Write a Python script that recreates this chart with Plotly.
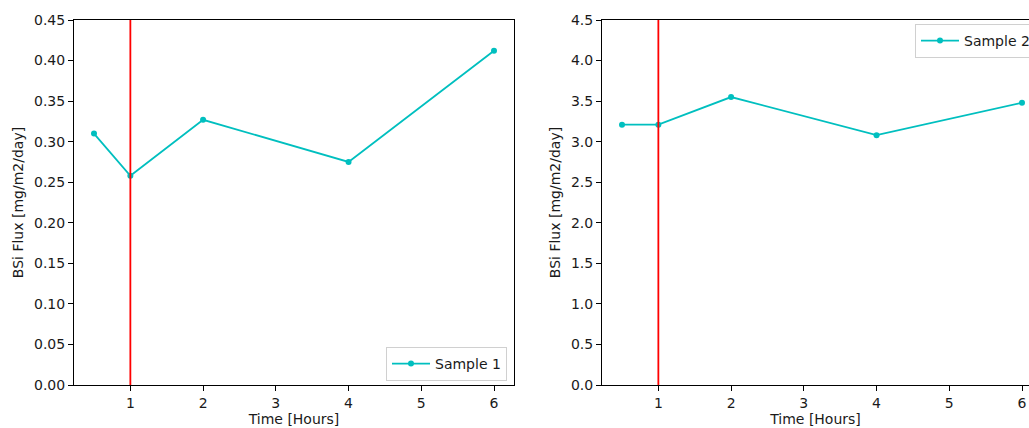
import plotly.graph_objects as go

# ---- data ----
hours = [0.5, 1, 2, 4, 6]
sample1_flux = [0.310, 0.258, 0.327, 0.275, 0.412]
sample2_flux = [3.21, 3.21, 3.55, 3.08, 3.48]
event_hour = 1
x_ticks = [1, 2, 3, 4, 5, 6]
y1_ticks = [0.00, 0.05, 0.10, 0.15, 0.20, 0.25, 0.30, 0.35, 0.40, 0.45]
y2_ticks = [0.0, 0.5, 1.0, 1.5, 2.0, 2.5, 3.0, 3.5, 4.0, 4.5]

W, H = 1029, 428
CYAN = "#00BFBF"
FONT = "DejaVu Sans"
FS = 14
INK = "#1a1a1a"

# pixel geometry
L1, R1 = 74, 514
L2 = 602
TOP, BOT = 20, 385
xr_full = [0.225, 6.275]
span_px = R1 - L1
xr2_end = xr_full[0] + (W - L2) / span_px * (xr_full[1] - xr_full[0])

fig = go.Figure()
fig.add_trace(go.Scatter(x=hours, y=sample1_flux, mode="lines+markers", name="Sample 1",
                         line=dict(color=CYAN, width=1.8), marker=dict(size=6, color=CYAN),
                         xaxis="x", yaxis="y", legend="legend"))
fig.add_trace(go.Scatter(x=hours, y=sample2_flux, mode="lines+markers", name="Sample 2",
                         line=dict(color=CYAN, width=1.8), marker=dict(size=6, color=CYAN),
                         xaxis="x2", yaxis="y2", legend="legend2"))

for xref, yref in (("x", "y domain"), ("x2", "y2 domain")):
    fig.add_shape(type="line", xref=xref, yref=yref, x0=event_hour, x1=event_hour, y0=0, y1=1,
                  line=dict(color="red", width=1.8), layer="above")

axis_common = dict(showline=True, linecolor="black", linewidth=1, ticks="outside", ticklen=5,
                   tickwidth=1, tickcolor="black", showgrid=False, zeroline=False,
                   tickfont=dict(family=FONT, size=FS, color=INK))
ydom = [1 - BOT / H, 1 - TOP / H]
tfont = dict(family=FONT, size=FS, color=INK)
lfont = dict(family=FONT, size=FS, color=INK)

fig.update_layout(
    width=W, height=H,
    margin=dict(l=0, r=0, t=0, b=0, autoexpand=False),
    paper_bgcolor="white", plot_bgcolor="white",
    font=dict(family=FONT, size=FS, color=INK),
    xaxis=dict(domain=[L1 / W, R1 / W], range=xr_full, tickvals=x_ticks, mirror=True,
               anchor="y", title=dict(text="Time [Hours]", standoff=4, font=tfont), **axis_common),
    yaxis=dict(domain=ydom, range=[0, 0.45], tickvals=y1_ticks, tickformat=".2f", mirror=True,
               anchor="x", title=dict(text="BSi Flux [mg/m2/day]", standoff=7, font=tfont),
               **axis_common),
    xaxis2=dict(domain=[L2 / W, 1.0], range=[xr_full[0], xr2_end], tickvals=x_ticks, mirror=True,
                anchor="y2", title=dict(text="Time [Hours]", standoff=4, font=tfont), **axis_common),
    yaxis2=dict(domain=ydom, range=[0, 4.5], tickvals=y2_ticks, tickformat=".1f", mirror=False,
                anchor="x2", title=dict(text="BSi Flux [mg/m2/day]", standoff=7, font=tfont),
                **axis_common),
    legend=dict(x=507 / W, y=1 - 381 / H, xanchor="right", yanchor="bottom",
                bgcolor="rgba(255,255,255,0.8)", bordercolor="#d0d0d0", borderwidth=1,
                itemwidth=38, font=lfont),
    legend2=dict(x=915 / W, y=1 - 24 / H, xanchor="left", yanchor="top",
                 bgcolor="rgba(255,255,255,0.8)", bordercolor="#d0d0d0", borderwidth=1,
                 itemwidth=38, font=lfont),
    showlegend=True,
)

fig.write_html(
    "out.html",
    config={"displayModeBar": False},
    post_script="document.body.style.margin='0';document.body.style.overflow='hidden';",
)
